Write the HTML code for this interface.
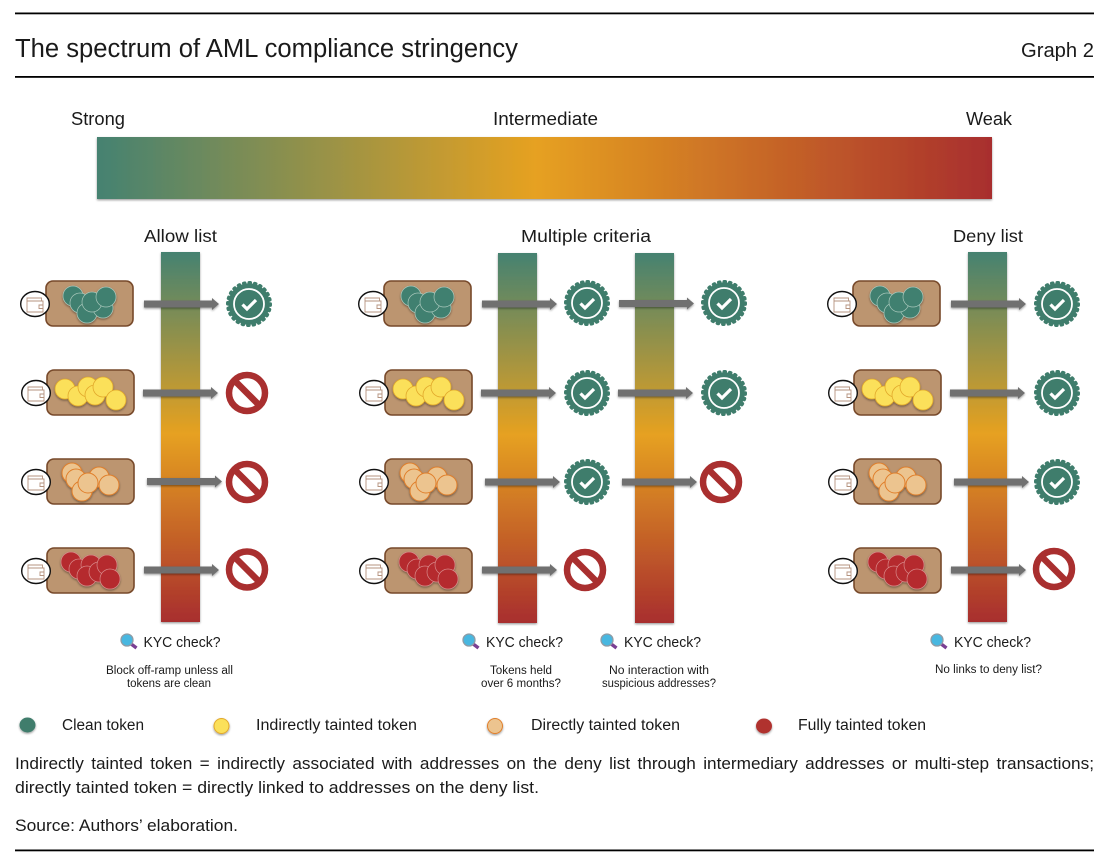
<!DOCTYPE html>
<html><head><meta charset="utf-8"><style>
html,body{margin:0;padding:0;background:#fff;width:1102px;height:861px;overflow:hidden}
svg{display:block}
text{font-family:"Liberation Sans",sans-serif;fill:#1a1a1a}
</style></head><body>
<svg width="1102" height="861" viewBox="0 0 1102 861" xmlns="http://www.w3.org/2000/svg">
<defs>
<linearGradient id="h" x1="0" x2="1" y1="0" y2="0"><stop offset="0" stop-color="#458271"/><stop offset=".49" stop-color="#e6a120"/><stop offset="1" stop-color="#a82e2e"/></linearGradient>
<linearGradient id="v" x1="0" x2="0" y1="0" y2="1"><stop offset="0" stop-color="#458271"/><stop offset=".49" stop-color="#e6a120"/><stop offset="1" stop-color="#a82e2e"/></linearGradient>
<filter id="s" x="-20%" y="-20%" width="140%" height="140%"><feDropShadow dx="0" dy="1.200" stdDeviation="1" flood-color="#000" flood-opacity=".4"/></filter>
<g id="wal">
<rect x="0" y="0" width="87" height="45" rx="7" fill="#bc9570" stroke="#77492a" stroke-width="1.600"/>
<ellipse cx="-11" cy="23" rx="14.300" ry="12.500" fill="#fff" stroke="#111" stroke-width="1.400"/>
<path d="M-19 17h14.500v3h1.500v11h-16zM-19 20h14.500M-3 24h-4v3.500h4" fill="none" stroke="#b5937f" stroke-width=".9"/>
</g>
<g id="c1" filter="url(#s)" fill="#3f8070" stroke="#a9c7bb" stroke-width=".7">
<circle cx="27" cy="15" r="10"/><circle cx="34" cy="22" r="10"/><circle cx="41" cy="32" r="10"/><circle cx="57" cy="27" r="10"/><circle cx="46" cy="21" r="10"/><circle cx="60" cy="16" r="10"/>
</g>
<g id="c2" filter="url(#s)" fill="#fbe05a" stroke="#e2a92c" stroke-width=".8">
<circle cx="18" cy="19" r="10"/><circle cx="31" cy="26" r="10"/><circle cx="41" cy="17" r="10"/><circle cx="48" cy="25" r="10"/><circle cx="56" cy="17" r="10"/><circle cx="69" cy="30" r="10"/>
</g>
<g id="c3" filter="url(#s)" fill="#ecc48f" stroke="#e07f2c" stroke-width="1">
<circle cx="25" cy="14" r="10"/><circle cx="29" cy="20" r="10"/><circle cx="35" cy="32" r="10"/><circle cx="52" cy="18" r="10"/><circle cx="41" cy="24" r="10"/><circle cx="62" cy="26" r="10"/>
</g>
<g id="c4" filter="url(#s)" fill="#b52a2f" stroke="#d98a8a" stroke-width=".7">
<circle cx="24" cy="14" r="10"/><circle cx="32" cy="21" r="10"/><circle cx="44" cy="17" r="10"/><circle cx="40" cy="28" r="10"/><circle cx="52" cy="24" r="10"/><circle cx="60" cy="17" r="10"/><circle cx="63" cy="31" r="10"/>
</g>
<g id="cards">
<use href="#wal" x="46" y="281"/><use href="#c1" x="46" y="281"/>
<use href="#wal" x="47" y="370"/><use href="#c2" x="47" y="370"/>
<use href="#wal" x="47" y="459"/><use href="#c3" x="47" y="459"/>
<use href="#wal" x="47" y="548"/><use href="#c4" x="47" y="548"/>
</g>
<path id="ar" d="M0 -3.500H68V-6L75 0L68 6V3.500H0Z" fill="#6f6f6f" filter="url(#s)"/>
<g id="ok">
<circle r="20.800" fill="#3f7d6c"/>
<circle r="21.300" fill="none" stroke="#3f7d6c" stroke-width="3.400" stroke-linecap="round" stroke-dasharray="1.200 4.376"/>
<circle r="15" fill="none" stroke="#fff" stroke-width="1.800"/>
<path d="M-6.500 0.500L-2 5L7 -4" fill="none" stroke="#fff" stroke-width="3.200"/>
</g>
<g id="no">
<circle r="18" fill="#fff" stroke="#a92f2f" stroke-width="6.500"/>
<path d="M-12.500 -12.500L12.500 12.500" stroke="#a92f2f" stroke-width="6.500"/>
</g>
<g id="mag">
<path d="M3.500 3.500L9.500 8" stroke="#7a3f93" stroke-width="3.400"/>
<circle r="6" fill="#48b7e0" stroke="#8e9ca6" stroke-width="1.300"/>
</g>
</defs>

<rect width="1102" height="861" fill="#fff"/>
<rect x="15" y="12.500" width="1079" height="1.800" fill="#000"/>
<rect x="15" y="76" width="1079" height="1.800" fill="#000"/>
<rect x="15" y="849.500" width="1079" height="1.800" fill="#000"/>
<text x="15" y="57" font-size="25.500" textLength="503" lengthAdjust="spacingAndGlyphs">The spectrum of AML compliance stringency</text>
<text x="1021" y="57" font-size="20" textLength="73" lengthAdjust="spacingAndGlyphs">Graph 2</text>

<text x="71" y="125" font-size="18" textLength="54" lengthAdjust="spacingAndGlyphs">Strong</text>
<text x="493" y="125" font-size="18" textLength="105" lengthAdjust="spacingAndGlyphs">Intermediate</text>
<text x="966" y="125" font-size="18" textLength="46" lengthAdjust="spacingAndGlyphs">Weak</text>
<rect x="97" y="137" width="895" height="62" fill="url(#h)" filter="url(#s)"/>

<text x="144" y="242" font-size="17.500" textLength="73" lengthAdjust="spacingAndGlyphs">Allow list</text>
<text x="521" y="242" font-size="17.500" textLength="130" lengthAdjust="spacingAndGlyphs">Multiple criteria</text>
<text x="953" y="242" font-size="17.500" textLength="70" lengthAdjust="spacingAndGlyphs">Deny list</text>

<rect x="161" y="252" width="39" height="370" fill="url(#v)" filter="url(#s)"/>
<rect x="498" y="253" width="39" height="370" fill="url(#v)" filter="url(#s)"/>
<rect x="635" y="253" width="39" height="370" fill="url(#v)" filter="url(#s)"/>
<rect x="968" y="252" width="39" height="370" fill="url(#v)" filter="url(#s)"/>

<use href="#cards"/><use href="#cards" x="338"/><use href="#cards" x="807"/>

<use href="#ar" x="144" y="304"/><use href="#ar" x="143" y="393"/><use href="#ar" x="147" y="481.500"/><use href="#ar" x="144" y="570"/>
<use href="#ar" x="482" y="304"/><use href="#ar" x="481" y="393"/><use href="#ar" x="485" y="482"/><use href="#ar" x="482" y="570"/>
<use href="#ar" x="619" y="303.500"/><use href="#ar" x="618" y="393"/><use href="#ar" x="622" y="482"/>
<use href="#ar" x="951" y="304"/><use href="#ar" x="950" y="393"/><use href="#ar" x="954" y="482"/><use href="#ar" x="951" y="570"/>

<use href="#ok" x="249" y="304"/><use href="#no" x="247" y="393"/><use href="#no" x="247" y="482"/><use href="#no" x="247" y="569.500"/>
<use href="#ok" x="587" y="303"/><use href="#ok" x="587" y="393"/><use href="#ok" x="587" y="482"/><use href="#no" x="585" y="570"/>
<use href="#ok" x="724" y="303"/><use href="#ok" x="724" y="393"/><use href="#no" x="721" y="482"/>
<use href="#ok" x="1057" y="304"/><use href="#ok" x="1057" y="393"/><use href="#ok" x="1057" y="482"/><use href="#no" x="1054" y="569"/>

<use href="#mag" x="127" y="640"/><use href="#mag" x="469" y="640"/><use href="#mag" x="607" y="640"/><use href="#mag" x="937" y="640"/>
<text x="143.500" y="647" font-size="15" textLength="77" lengthAdjust="spacingAndGlyphs">KYC check?</text>
<text x="486" y="647" font-size="15" textLength="77" lengthAdjust="spacingAndGlyphs">KYC check?</text>
<text x="624" y="647" font-size="15" textLength="77" lengthAdjust="spacingAndGlyphs">KYC check?</text>
<text x="954" y="647" font-size="15" textLength="77" lengthAdjust="spacingAndGlyphs">KYC check?</text>

<g font-size="11.500">
<text x="106" y="674" textLength="127" lengthAdjust="spacingAndGlyphs">Block off-ramp unless all</text>
<text x="127" y="687" textLength="84" lengthAdjust="spacingAndGlyphs">tokens are clean</text>
<text x="490" y="674" textLength="62" lengthAdjust="spacingAndGlyphs">Tokens held</text>
<text x="481" y="687" textLength="80" lengthAdjust="spacingAndGlyphs">over 6 months?</text>
<text x="609" y="674" textLength="100" lengthAdjust="spacingAndGlyphs">No interaction with</text>
<text x="602" y="687" textLength="114" lengthAdjust="spacingAndGlyphs">suspicious addresses?</text>
<text x="935" y="673" textLength="107" lengthAdjust="spacingAndGlyphs">No links to deny list?</text>
</g>

<ellipse cx="27.500" cy="725" rx="8" ry="7.500" fill="#3f7d6c" filter="url(#s)"/>
<circle cx="221.500" cy="726" r="7.500" fill="#fbe05a" stroke="#e2a92c" stroke-width="1" filter="url(#s)"/>
<circle cx="495" cy="726" r="7.500" fill="#ecc48f" stroke="#e07f2c" stroke-width="1" filter="url(#s)"/>
<ellipse cx="764" cy="726" rx="8" ry="7.500" fill="#b0302f" filter="url(#s)"/>
<g font-size="15.500">
<text x="62" y="730" textLength="82" lengthAdjust="spacingAndGlyphs">Clean token</text>
<text x="256" y="730" textLength="161" lengthAdjust="spacingAndGlyphs">Indirectly tainted token</text>
<text x="531" y="730" textLength="149" lengthAdjust="spacingAndGlyphs">Directly tainted token</text>
<text x="798" y="730" textLength="128" lengthAdjust="spacingAndGlyphs">Fully tainted token</text>
</g>

<g font-size="16.500">
<text x="15" y="769" textLength="1079" lengthAdjust="spacingAndGlyphs" style="word-spacing:2.500px">Indirectly tainted token = indirectly associated with addresses on the deny list through intermediary addresses or multi-step transactions;</text>
<text x="15" y="793" textLength="524" lengthAdjust="spacingAndGlyphs">directly tainted token = directly linked to addresses on the deny list.</text>
<text x="15" y="831" textLength="223" lengthAdjust="spacingAndGlyphs">Source: Authors’ elaboration.</text>
</g>
</svg>
</body></html>
